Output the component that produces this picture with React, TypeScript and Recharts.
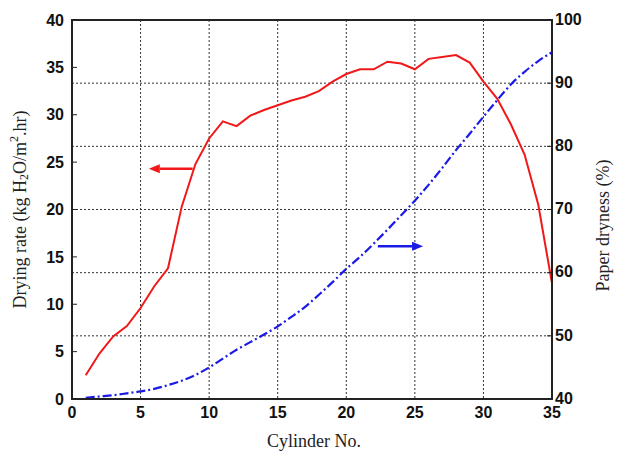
import React from 'react';
import {
  LineChart,
  Line,
  XAxis,
  YAxis,
  CartesianGrid,
  ReferenceLine,
  ReferenceArea,
  Label,
} from 'recharts';

// Cylinder positions along the dryer section
const cylinders = [
  1, 2, 3, 4, 5, 6, 7, 8, 9, 10, 11, 12, 13, 14, 15, 16, 17, 18, 19, 20, 21, 22, 23, 24, 25, 26, 27, 28,
  29, 30, 31, 32, 33, 34, 35,
];

// Drying rate, kg H2O/m².hr (left axis)
const dryingRate = [
  2.5, 4.8, 6.6, 7.7, 9.6, 11.9, 13.8, 20.3, 24.8, 27.5, 29.3, 28.8, 29.9, 30.5, 31.0, 31.5, 31.9, 32.5,
  33.5, 34.3, 34.8, 34.8, 35.6, 35.4, 34.8, 35.9, 36.1, 36.3, 35.5, 33.5, 31.7, 29.0, 25.8, 20.5, 12.2,
];

// Paper dryness, % (right axis)
const paperDryness = [
  40.2, 40.4, 40.6, 40.9, 41.2, 41.6, 42.2, 42.9, 43.8, 45.0, 46.4, 47.8, 49.0, 50.2, 51.5, 53.0, 54.6,
  56.5, 58.5, 60.6, 62.5, 64.6, 66.8, 69.1, 71.4, 73.9, 76.6, 79.4, 82.0, 84.7, 87.3, 89.8, 91.8, 93.5,
  94.9,
];

const xTicks = [0, 5, 10, 15, 20, 25, 30, 35];
const rateTicks = [0, 5, 10, 15, 20, 25, 30, 35, 40];
const drynessTicks = [40, 50, 60, 70, 80, 90, 100];

// Arrows pointing each curve to its axis
const rateArrow = [
  { x: 8.8, y: 24.3 },
  { x: 5.6, y: 24.3 },
];
const drynessArrow = [
  { x: 22.3, y: 64.2 },
  { x: 25.6, y: 64.2 },
];

const data = cylinders.map((c, i) => ({
  cylinder: c,
  rate: dryingRate[i],
  dryness: paperDryness[i],
}));

const RED = '#f01818';
const BLUE = '#1a1ae6';
const tickFont = {
  fontFamily: '"Liberation Sans", Arial, sans-serif',
  fontSize: 16,
  fontWeight: 700,
  fill: '#111',
};
const titleFont = {
  fontFamily: '"Liberation Serif", "Times New Roman", serif',
  fontSize: 18,
  fill: '#222',
};

const arrowShape = (color: string) => (props: any) => {
  const { x1, y1, x2, y2 } = props;
  const dx = x2 - x1;
  const dy = y2 - y1;
  const len = Math.sqrt(dx * dx + dy * dy) || 1;
  const ux = dx / len;
  const uy = dy / len;
  const headLen = 11;
  const headHalf = 4.5;
  const bx = x2 - ux * headLen;
  const by = y2 - uy * headLen;
  const pts = [
    `${x2},${y2}`,
    `${bx - uy * headHalf},${by + ux * headHalf}`,
    `${bx + uy * headHalf},${by - ux * headHalf}`,
  ].join(' ');
  return (
    <g>
      <line x1={x1} y1={y1} x2={bx} y2={by} stroke={color} strokeWidth={2.5} />
      <polygon points={pts} fill={color} />
    </g>
  );
};

const LeftTitle = (props: any) => {
  const vb = props.viewBox;
  const cx = vb.x - 12;
  const cy = vb.y + vb.height / 2;
  return (
    <text
      x={cx}
      y={cy}
      transform={`rotate(-90, ${cx}, ${cy})`}
      textAnchor="middle"
      dominantBaseline="central"
      {...titleFont}
    >
      <tspan>Drying rate (kg H</tspan>
      <tspan fontSize={12} dy={4}>2</tspan>
      <tspan dy={-4}>O/m</tspan>
      <tspan fontSize={12} dy={-6}>2</tspan>
      <tspan dy={6}>.hr)</tspan>
    </text>
  );
};

const RightTitle = (props: any) => {
  const vb = props.viewBox;
  const cx = vb.x + 51;
  const cy = vb.y + vb.height / 2 + 16;
  return (
    <text
      x={cx}
      y={cy}
      transform={`rotate(-90, ${cx}, ${cy})`}
      textAnchor="middle"
      dominantBaseline="central"
      {...titleFont}
    >
      Paper dryness (%)
    </text>
  );
};

const BottomTitle = (props: any) => {
  const vb = props.viewBox;
  return (
    <text x={vb.x + vb.width / 2 + 2} y={vb.y + 48} textAnchor="middle" {...titleFont}>
      Cylinder No.
    </text>
  );
};

export default function App() {
  return (
    <div style={{ position: 'absolute', left: 0, top: 0, width: 617, height: 456, background: '#fff' }}>
      <LineChart
        width={617}
        height={456}
        data={data}
        margin={{ top: 20, right: 25, bottom: 7, left: 32 }}
      >
        <CartesianGrid yAxisId="right" stroke="#333" strokeDasharray="2 2" strokeWidth={1} />
        <XAxis
          dataKey="cylinder"
          type="number"
          domain={[0, 35]}
          ticks={xTicks}
          interval={0}
          height={50}
          tickLine={false}
          tickSize={0}
          tickMargin={8}
          axisLine={{ stroke: '#222', strokeWidth: 2 }}
          tick={tickFont}
        >
          <Label content={BottomTitle} />
        </XAxis>
        <YAxis
          yAxisId="left"
          orientation="left"
          domain={[0, 40]}
          ticks={rateTicks}
          interval={0}
          width={40}
          tickSize={-5}
          tickMargin={13}
          tickLine={{ stroke: '#222', strokeWidth: 1 }}
          axisLine={{ stroke: '#222', strokeWidth: 2 }}
          tick={tickFont}
        >
          <Label content={LeftTitle} />
        </YAxis>
        <YAxis
          yAxisId="right"
          orientation="right"
          domain={[40, 100]}
          ticks={drynessTicks}
          interval={0}
          width={40}
          tickSize={-5}
          tickMargin={8}
          tickLine={{ stroke: '#222', strokeWidth: 1 }}
          axisLine={{ stroke: '#222', strokeWidth: 2 }}
          tick={{ ...tickFont, dy: -1 }}
        >
          <Label content={RightTitle} />
        </YAxis>
        <ReferenceArea
          yAxisId="left"
          x1={0}
          x2={35}
          y1={0}
          y2={40}
          fill="none"
          fillOpacity={0}
          stroke="#222"
          strokeWidth={2}
        />
        <Line
          yAxisId="left"
          type="linear"
          dataKey="rate"
          stroke={RED}
          strokeWidth={2}
          dot={false}
          isAnimationActive={false}
        />
        <Line
          yAxisId="right"
          type="monotone"
          dataKey="dryness"
          stroke={BLUE}
          strokeWidth={2.2}
          strokeDasharray="9 3 2 3"
          dot={false}
          isAnimationActive={false}
        />
        <ReferenceLine yAxisId="left" segment={rateArrow} shape={arrowShape(RED)} />
        <ReferenceLine yAxisId="right" segment={drynessArrow} shape={arrowShape(BLUE)} />
      </LineChart>
    </div>
  );
}
